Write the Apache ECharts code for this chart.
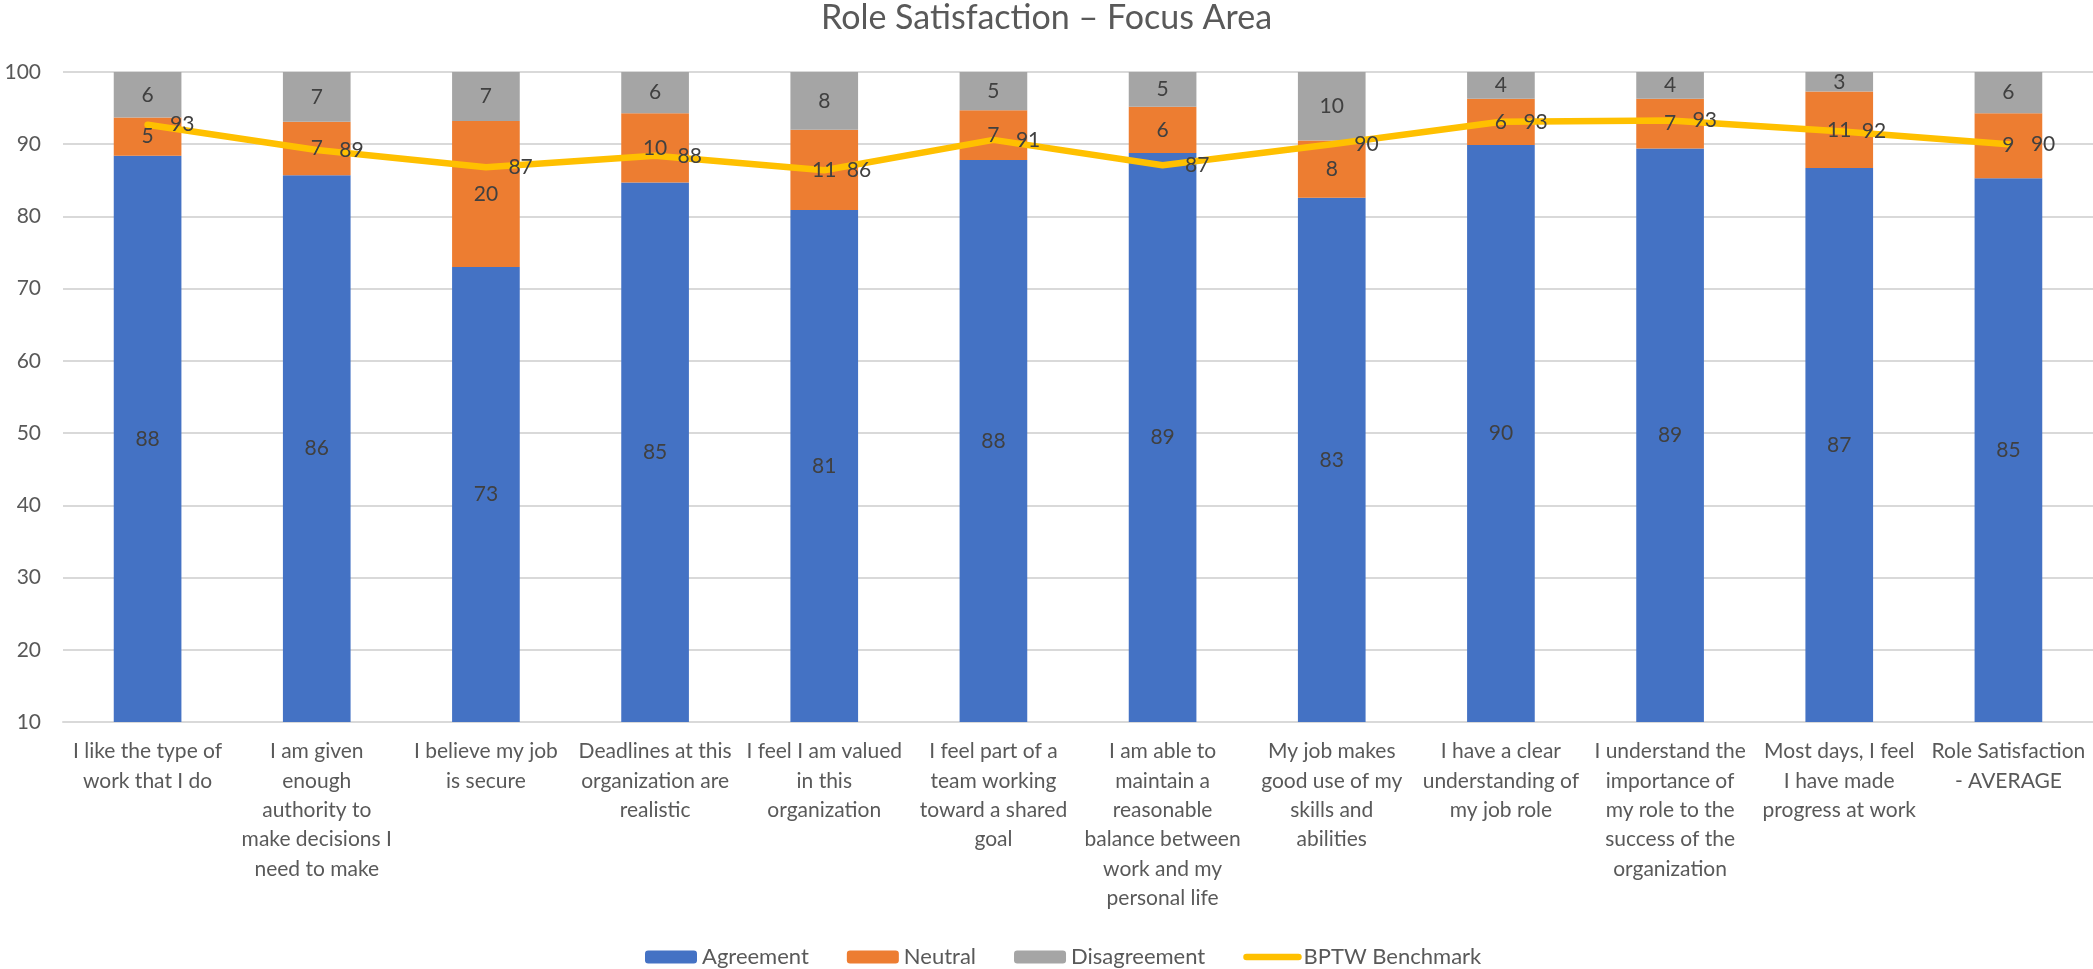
<!DOCTYPE html>
<html>
<head>
<meta charset="utf-8">
<title>Role Satisfaction – Focus Area</title>
<script src="https://cdn.jsdelivr.net/npm/echarts@6/dist/echarts.min.js"></script>
<style>
  html, body { margin: 0; padding: 0; background: #ffffff; }
  #chart { width: 2093px; height: 969px; }
</style>
</head>
<body>
<div id="chart"></div>
<script>
// Survey statements (wrapped the way they appear under each bar)
const categories = [
  'I like the type of\nwork that I do',
  'I am given\nenough\nauthority to\nmake decisions I\nneed to make',
  'I believe my job\nis secure',
  'Deadlines at this\norganization are\nrealistic',
  'I feel I am valued\nin this\norganization',
  'I feel part of a\nteam working\ntoward a shared\ngoal',
  'I am able to\nmaintain a\nreasonable\nbalance between\nwork and my\npersonal life',
  'My job makes\ngood use of my\nskills and\nabilities',
  'I have a clear\nunderstanding of\nmy job role',
  'I understand the\nimportance of\nmy role to the\nsuccess of the\norganization',
  'Most days, I feel\nI have made\nprogress at work',
  'Role Satisfaction\n- AVERAGE'
];

// Response shares (%), shown rounded to whole numbers
const agreement    = [88.4, 85.7, 73.0, 84.7, 80.9, 87.8, 88.8, 82.6, 89.9, 89.4, 86.7, 85.3];
const neutral      = [5.3, 7.4, 20.2, 9.6, 11.1, 6.9, 6.4, 7.9, 6.4, 6.9, 10.6, 9.0];
const disagreement = [6.3, 6.9, 6.8, 5.7, 8.0, 5.3, 4.8, 9.5, 3.7, 3.7, 2.7, 5.7];

// Best Places To Work benchmark (%)
const benchmark    = [92.7, 89.2, 86.8, 88.4, 86.4, 90.6, 87.1, 90.0, 93.1, 93.3, 91.8, 90.0];

const FONT = 'Lato, "Open Sans", sans-serif';
const roundLabel = p => String(Math.round(p.value));

const barLabel = {
  show: true,
  position: 'inside',
  color: '#404040',
  fontFamily: FONT,
  fontSize: 21,
  formatter: roundLabel
};

// Filled segments of the stacked columns
function barSeries(name, data, color) {
  return {
    name: name,
    type: 'bar',
    stack: 'responses',
    data: data,
    z: 2,
    barCategoryGap: '60%',
    barGap: '-100%',
    itemStyle: { color: color },
    emphasis: { disabled: true }
  };
}

// Same stack again, unfilled, so the value labels sit above the benchmark line
function barLabelSeries(name, data) {
  return {
    name: name + ' values',
    type: 'bar',
    stack: 'values',
    data: data,
    z: 4,
    silent: true,
    barCategoryGap: '60%',
    barGap: '-100%',
    itemStyle: { color: 'rgba(0,0,0,0)' },
    label: barLabel,
    emphasis: { disabled: true }
  };
}

const chart = echarts.init(document.getElementById('chart'), null, { renderer: 'canvas' });

chart.setOption({
  animation: false,
  backgroundColor: '#ffffff',
  title: {
    text: 'Role Satisfaction – Focus Area',
    left: 'center',
    top: -4,
    padding: [5, 0, 5, 18],
    textStyle: {
      fontFamily: FONT,
      fontSize: 34,
      fontWeight: 'normal',
      color: '#595959'
    }
  },
  legend: {
    left: 640,
    top: 941,
    itemWidth: 52,
    itemHeight: 13,
    itemGap: 38,
    textStyle: { fontFamily: FONT, fontSize: 22, color: '#595959' },
    data: [
      'Agreement',
      'Neutral',
      'Disagreement',
      {
        name: 'BPTW Benchmark',
        itemStyle: { color: 'rgba(0,0,0,0)', borderWidth: 0 },
        lineStyle: { color: '#FFC000', width: 6.5, cap: 'round' }
      }
    ]
  },
  grid: {
    left: 63,
    right: 0,
    top: 72,
    bottom: 247,
    containLabel: false
  },
  xAxis: {
    type: 'category',
    data: categories,
    axisTick: { show: false },
    axisLine: { show: true, lineStyle: { color: '#D9D9D9', width: 2 } },
    axisLabel: {
      interval: 0,
      margin: 15,
      fontFamily: FONT,
      fontSize: 21,
      lineHeight: 29.3,
      color: '#595959',
      align: 'center'
    }
  },
  yAxis: {
    type: 'value',
    min: 10,
    max: 100,
    interval: 10,
    axisLine: { show: false },
    axisTick: { show: false },
    splitLine: { lineStyle: { color: '#D9D9D9', width: 2 } },
    axisLabel: {
      margin: 22,
      fontFamily: FONT,
      fontSize: 21,
      color: '#595959'
    }
  },
  series: [
    barSeries('Agreement', agreement, '#4472C4'),
    barSeries('Neutral', neutral, '#ED7D31'),
    barSeries('Disagreement', disagreement, '#A5A5A5'),
    {
      name: 'BPTW Benchmark',
      type: 'line',
      data: benchmark,
      z: 3,
      symbol: 'circle',
      symbolSize: 1,
      itemStyle: { color: 'rgba(0,0,0,0)' },
      lineStyle: { color: '#FFC000', width: 6.5, cap: 'round', join: 'round' },
      label: {
        show: true,
        position: 'right',
        distance: 22,
        color: '#404040',
        fontFamily: FONT,
        fontSize: 21,
        formatter: roundLabel
      },
      emphasis: { disabled: true }
    },
    barLabelSeries('Agreement', agreement),
    barLabelSeries('Neutral', neutral),
    barLabelSeries('Disagreement', disagreement)
  ]
});
</script>
</body>
</html>
